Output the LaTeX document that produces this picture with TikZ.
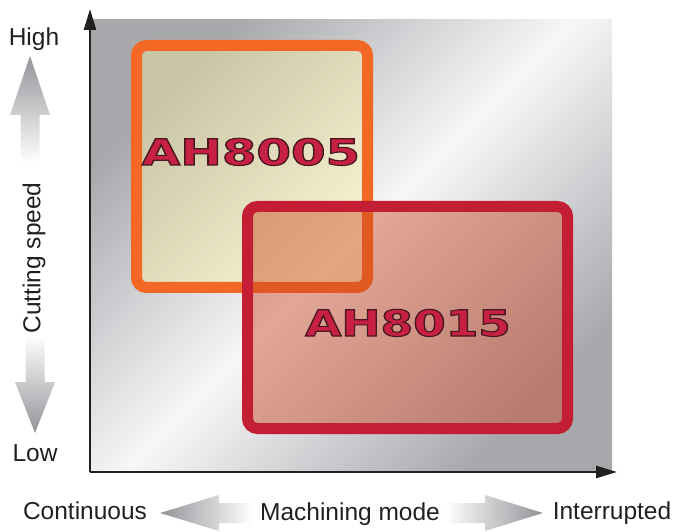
\documentclass[tikz,border=0pt]{standalone}
\usepackage{fontspec}
\setmainfont{Liberation Sans}
\newfontfamily\gradefont{DejaVu Sans}
\usetikzlibrary{arrows.meta}
\definecolor{bgdark}{RGB}{166,168,172}
\definecolor{bglight}{RGB}{247,247,248}
\definecolor{axisblack}{RGB}{35,31,32}
\definecolor{toolorange}{RGB}{243,104,36}
\definecolor{toolred}{RGB}{196,30,52}
\definecolor{paleyellow}{RGB}{255,240,155}
\definecolor{salmon}{RGB}{202,69,33}
\definecolor{labelred}{RGB}{200,32,66}
\definecolor{arrowgray}{RGB}{146,148,152}
% red grade names with a dark rim
\newcommand\gradename[1]{\special{pdf:code q 2 Tr 1.1 w 0.27 0.1 0.12 RG}#1\special{pdf:code Q}}

\tikzset{
  axislabel/.style={font=\fontsize{24.5}{24.5}\selectfont,text=axisblack,inner sep=0pt},
  gradelabel/.style={font=\gradefont\bfseries\fontsize{36}{36}\selectfont,text=labelred,inner sep=0pt},
  gradebox/.style={line width=11pt,rounded corners=10pt}
}

\begin{document}
\begin{tikzpicture}[x=1pt,y=1pt]
  \useasboundingbox (0,0) rectangle (675,531);
  % background:
  \shade[top color=bgdark,bottom color=bgdark,middle color=bglight,shading angle=45]
    (91,59) rectangle (612,511);

  % axes:
  \coordinate (O) at (90,59);
  \coordinate (ytip) at (90,522);
  \coordinate (xtip) at (617,59);
  \begin{scope}[axisblack,line width=2.5pt,>={Triangle[length=21pt,width=12pt]}]
      \draw[->] (O) -- (ytip);
      \draw[->] (O) -- (xtip);
  \end{scope}

  % grade areas:
  \draw[gradebox,draw=toolorange,fill=paleyellow,fill opacity=0.4] (136.5,243.5) rectangle (367.5,485.5);
  \draw[gradebox,draw=toolred,fill=salmon,fill opacity=0.45] (247.5,102.5) rectangle (567.5,324.5);

  \node[gradelabel,anchor=base] (AH8005) at (251,366) {\scalebox{1.38}[1]{\gradename{AH8005}}};
  \node[gradelabel,anchor=base] (AH8015) at (408,195) {\scalebox{1.3}[1]{\gradename{AH8015}}};

  % cutting speed:
  \shade[top color=arrowgray,bottom color=white]
    (30,475) -- (50,416) -- (39.5,416) -- (39.5,368) -- (20.5,368) -- (20.5,416) -- (10,416) -- cycle;
  \shade[top color=white,bottom color=arrowgray]
    (25.5,196) -- (44.5,196) -- (44.5,149) -- (55,149) -- (35,98) -- (15,149) -- (25.5,149) -- cycle;
  \node[axislabel,anchor=base] (high) at (34,485) {High};
  \node[axislabel,anchor=base] (low) at (35,70) {Low};
  \node[axislabel,rotate=90] (speed) at (34,273) {Cutting speed};

  % machining mode:
  \shade[left color=arrowgray,right color=white]
    (160,18) -- (219,36) -- (219,28) -- (253,28) -- (253,8) -- (219,8) -- (219,0) -- cycle;
  \shade[left color=white,right color=arrowgray]
    (445,28) -- (485,28) -- (485,36) -- (543,18) -- (485,0) -- (485,8) -- (445,8) -- cycle;
  \node[axislabel,anchor=base] (cont) at (85,12) {Continuous};
  \node[axislabel,anchor=base] (mode) at (350,11) {Machining mode};
  \node[axislabel,anchor=base] (intr) at (612,12) {Interrupted};
\end{tikzpicture}
\end{document}
